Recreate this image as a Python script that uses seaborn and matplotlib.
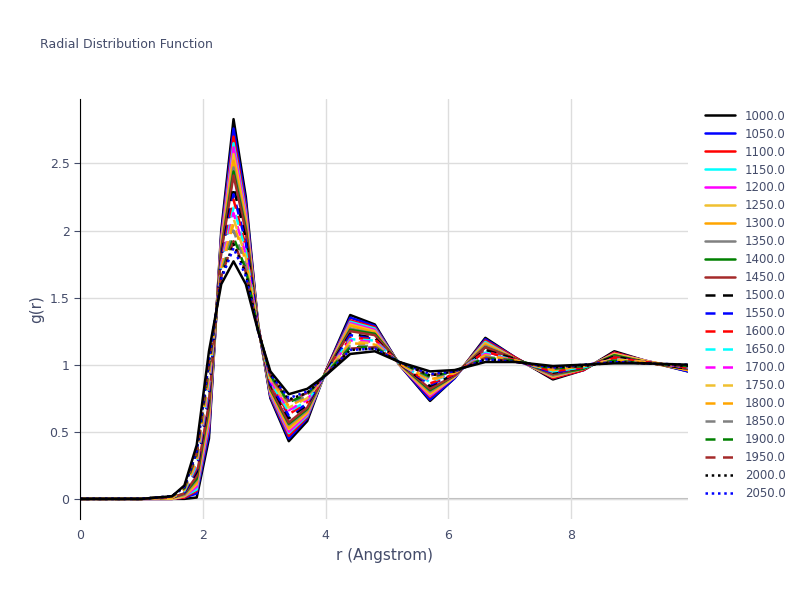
import matplotlib
matplotlib.use("Agg")
import matplotlib.pyplot as plt
import seaborn as sns
import pandas as pd

r = [0, 0.3, 1.0, 1.5, 1.7, 1.9, 2.1, 2.3, 2.5, 2.7, 2.9, 3.1, 3.4, 3.7, 4.0, 4.4, 4.8, 5.2, 5.7, 6.1, 6.6, 7.1, 7.7, 8.2, 8.7, 9.2, 9.9]

g_1000 = [0,0,0,0,0,.01,.45,2.00,2.83,2.25,1.30,.75,.43,.58,.95,1.37,1.30,1.00,.73,.90,1.20,1.05,.89,.96,1.10,1.03,.95]
g_1050 = [0,0,0,0,.01,.04,.49,1.97,2.76,2.21,1.30,.76,.45,.60,.95,1.35,1.29,1.00,.74,.90,1.19,1.05,.90,.96,1.09,1.03,.95]
g_1100 = [0,0,0,0,.01,.06,.53,1.95,2.70,2.17,1.29,.77,.47,.61,.95,1.33,1.28,1.00,.76,.91,1.18,1.05,.90,.96,1.09,1.03,.96]
g_1150 = [0,0,0,0,.02,.07,.56,1.93,2.65,2.14,1.29,.78,.49,.62,.94,1.32,1.27,1.00,.77,.91,1.17,1.04,.91,.97,1.08,1.03,.96]
g_1200 = [0,0,0,0,.02,.09,.58,1.92,2.62,2.12,1.29,.79,.50,.63,.94,1.31,1.26,1.00,.77,.91,1.16,1.04,.91,.97,1.08,1.03,.96]
g_1250 = [0,0,0,0,.02,.11,.61,1.90,2.57,2.09,1.29,.80,.52,.64,.94,1.30,1.25,1.00,.78,.91,1.16,1.04,.91,.97,1.08,1.03,.96]
g_1300 = [0,0,0,.01,.03,.12,.64,1.88,2.52,2.06,1.29,.81,.53,.65,.94,1.29,1.24,1.01,.79,.92,1.15,1.04,.92,.97,1.07,1.02,.96]
g_1350 = [0,0,0,.01,.03,.14,.67,1.86,2.47,2.03,1.28,.82,.55,.66,.94,1.27,1.23,1.01,.80,.92,1.14,1.04,.92,.97,1.07,1.02,.97]
g_1400 = [0,0,0,.01,.04,.15,.69,1.85,2.44,2.01,1.28,.82,.56,.67,.94,1.26,1.23,1.01,.81,.92,1.13,1.04,.93,.97,1.07,1.02,.97]
g_1450 = [0,0,0,.01,.04,.17,.71,1.84,2.41,1.99,1.28,.83,.57,.68,.94,1.25,1.22,1.01,.82,.92,1.13,1.04,.93,.98,1.06,1.02,.97]
g_1500 = [0,0,0,.01,.05,.20,.76,1.81,2.32,1.94,1.28,.85,.60,.70,.94,1.23,1.20,1.01,.84,.93,1.11,1.04,.94,.98,1.06,1.02,.97]
g_1550 = [0,0,0,.01,.05,.22,.79,1.79,2.27,1.91,1.27,.86,.62,.71,.93,1.22,1.19,1.01,.85,.93,1.10,1.03,.94,.98,1.05,1.02,.98]
g_1600 = [0,0,0,.01,.06,.23,.82,1.77,2.23,1.88,1.27,.86,.63,.72,.93,1.20,1.19,1.01,.86,.93,1.10,1.03,.95,.98,1.05,1.02,.98]
g_1650 = [0,0,0,.01,.06,.25,.85,1.75,2.17,1.85,1.27,.87,.65,.73,.93,1.19,1.18,1.01,.87,.94,1.09,1.03,.95,.98,1.04,1.02,.98]
g_1700 = [0,0,0,.01,.07,.27,.88,1.74,2.13,1.82,1.27,.88,.66,.74,.93,1.18,1.17,1.01,.88,.94,1.08,1.03,.96,.99,1.04,1.02,.98]
g_1750 = [0,0,0,.01,.07,.28,.91,1.72,2.09,1.80,1.27,.89,.68,.75,.93,1.17,1.16,1.01,.88,.94,1.07,1.03,.96,.99,1.04,1.02,.99]
g_1800 = [0,0,0,.01,.07,.30,.93,1.70,2.05,1.77,1.26,.90,.69,.76,.93,1.16,1.15,1.01,.89,.94,1.07,1.03,.96,.99,1.03,1.02,.99]
g_1850 = [0,0,0,.02,.08,.32,.96,1.68,2.00,1.74,1.26,.91,.71,.77,.93,1.14,1.14,1.02,.90,.95,1.06,1.03,.97,.99,1.03,1.01,.99]
g_1900 = [0,0,0,.02,.08,.33,.99,1.67,1.95,1.71,1.26,.92,.72,.78,.93,1.13,1.13,1.02,.91,.95,1.05,1.03,.97,.99,1.03,1.01,.99]
g_1950 = [0,0,0,.02,.09,.34,1.01,1.66,1.92,1.69,1.26,.92,.73,.79,.92,1.12,1.13,1.02,.92,.95,1.05,1.02,.98,.99,1.02,1.01,.99]
g_2000 = [0,0,0,.02,.09,.35,1.02,1.65,1.90,1.68,1.26,.93,.74,.79,.92,1.11,1.12,1.02,.92,.95,1.04,1.02,.98,.99,1.02,1.01,.99]
g_2050 = [0,0,0,.02,.09,.36,1.04,1.64,1.87,1.66,1.25,.93,.75,.80,.92,1.11,1.12,1.02,.93,.95,1.04,1.02,.98,1.00,1.02,1.01,1.00]
g_2100 = [0,0,0,.02,.10,.40,1.10,1.60,1.77,1.60,1.25,.95,.78,.82,.92,1.08,1.10,1.02,.95,.96,1.02,1.02,.99,1.00,1.01,1.01,1.00]

temps = ["1000.0","1050.0","1100.0","1150.0","1200.0","1250.0","1300.0","1350.0","1400.0","1450.0",
         "1500.0","1550.0","1600.0","1650.0","1700.0","1750.0","1800.0","1850.0","1900.0","1950.0",
         "2000.0","2050.0","2100.0"]
series = [g_1000,g_1050,g_1100,g_1150,g_1200,g_1250,g_1300,g_1350,g_1400,g_1450,g_1500,g_1550,
          g_1600,g_1650,g_1700,g_1750,g_1800,g_1850,g_1900,g_1950,g_2000,g_2050,g_2100]

base_colors = ["black","blue","red","cyan","magenta","#f0c030","orange","gray","green","brown"]
styles = []
for i in range(len(temps)):
    if i < 10:
        styles.append((base_colors[i], "-"))
    elif i < 20:
        styles.append((base_colors[i-10], (0, (4, 3))))
    elif i < 22:
        styles.append((base_colors[i-20], (0, (1, 1.5))))
    else:
        styles.append(("black", "-"))

sns.set_style("white")
fig, ax = plt.subplots(figsize=(8, 6), dpi=100)
fig.subplots_adjust(left=0.1, right=0.86, top=0.835, bottom=0.135)

for i, (t, ys) in enumerate(zip(temps, series)):
    df = pd.DataFrame({"r": r, "g": ys})
    c, ls = styles[i]
    sns.lineplot(data=df, x="r", y="g", ax=ax, color=c, linestyle=ls, linewidth=1.8,
                 label=t if i < 22 else "_nolegend_")

ax.set_xlim(0, 9.9)
ax.set_ylim(-0.15, 2.98)
ax.set_xticks([0, 2, 4, 6, 8])
ax.set_yticks([0, 0.5, 1, 1.5, 2, 2.5])
ax.set_yticklabels(["0", "0.5", "1", "1.5", "2", "2.5"])
ax.grid(True, color="#dddddd", linewidth=1)
ax.axhline(0, color="#bbbbbb", linewidth=1.5, zorder=0.5)
for s in ["top", "right", "bottom"]:
    ax.spines[s].set_visible(False)
ax.spines["left"].set_color("black")
ax.tick_params(colors="#444c6a", labelsize=9, left=True, length=4)
ax.set_xlabel("r (Angstrom)", color="#444c6a", fontsize=11)
ax.set_ylabel("g(r)", color="#444c6a", fontsize=11)
fig.text(0.05, 0.92, "Radial Distribution Function", color="#444c6a", fontsize=9)
leg = ax.legend(loc="upper left", bbox_to_anchor=(1.01, 1.0), frameon=False, fontsize=8.5,
                handlelength=2.6, labelspacing=0.42, labelcolor="#444c6a")
fig.savefig("out.png", dpi=100)
